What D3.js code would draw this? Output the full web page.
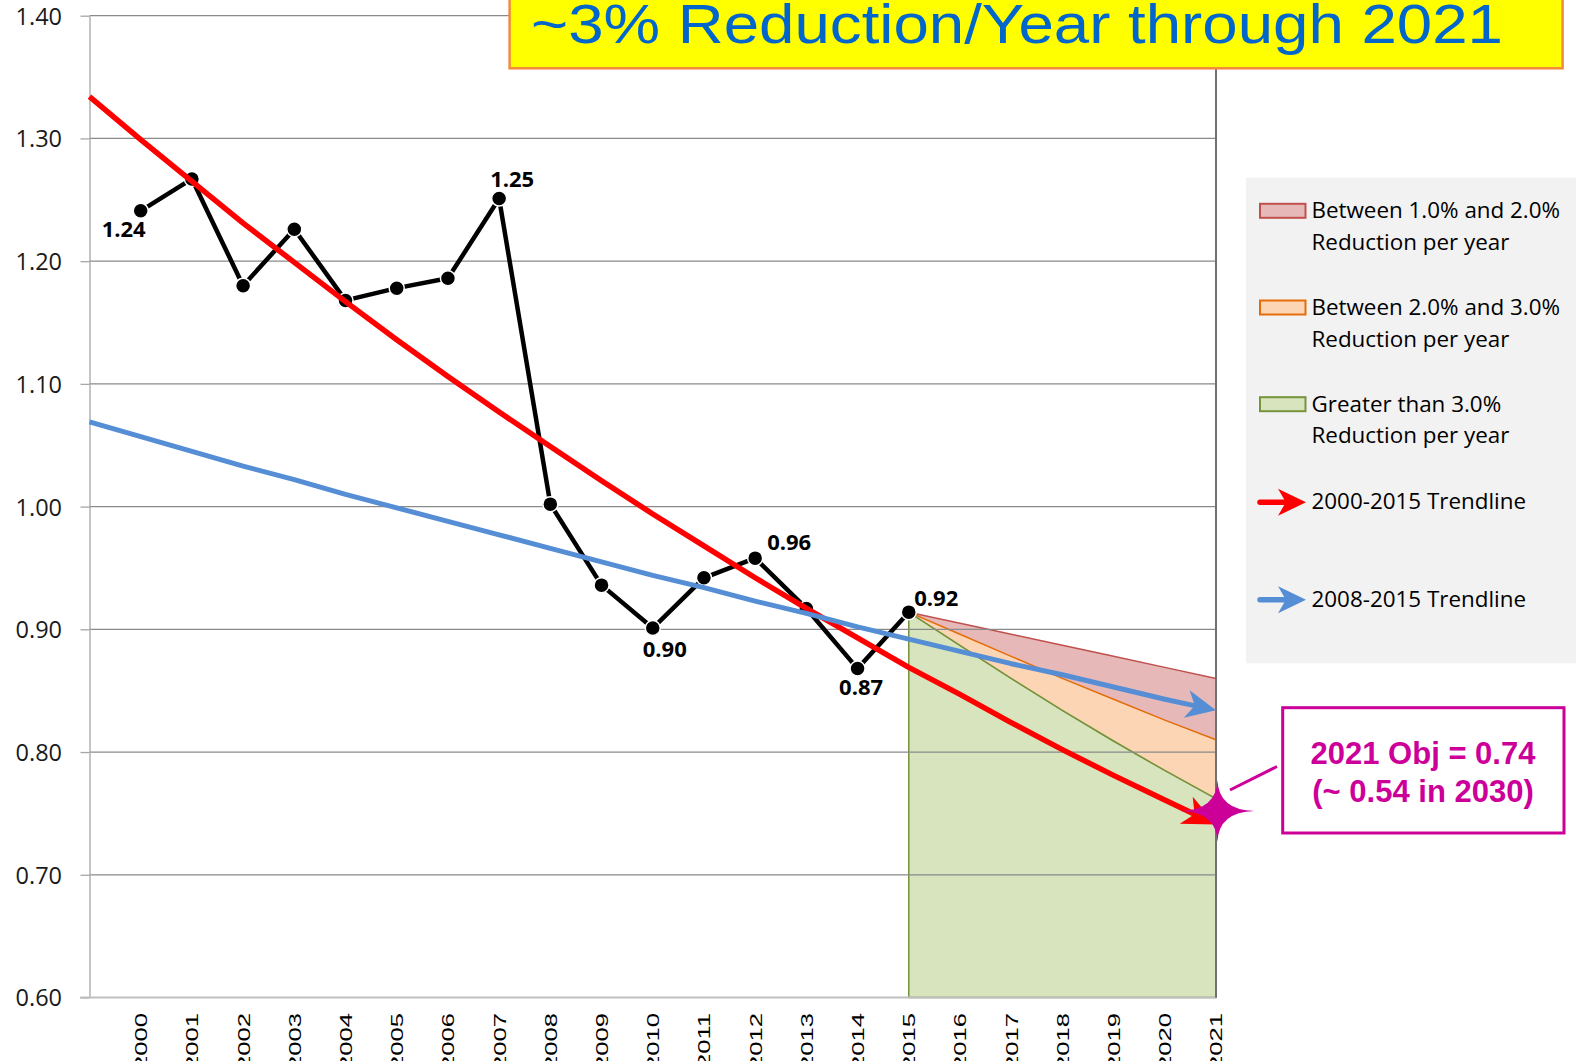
<!DOCTYPE html>
<html>
<head>
<meta charset="utf-8">
<script src="https://cdn.jsdelivr.net/npm/d3@7"></script>
<style>
  body { margin: 0; background: #fff; }
  svg { display: block; }
</style>
</head>
<body>
<script>
// category years shown on the x axis
var years = [2000, 2001, 2002, 2003, 2004, 2005, 2006, 2007, 2008, 2009, 2010,
             2011, 2012, 2013, 2014, 2015, 2016, 2017, 2018, 2019, 2020, 2021];

// measured values 2000-2015
var actualYears = [2000, 2001, 2002, 2003, 2004, 2005, 2006, 2007,
                   2008, 2009, 2010, 2011, 2012, 2013, 2014, 2015];
var actualValues = [1.241, 1.267, 1.180, 1.226, 1.168, 1.178, 1.186, 1.251,
                    1.002, 0.936, 0.901, 0.942, 0.958, 0.917, 0.868, 0.914];

var trendYears = [1999, 2000, 2001, 2002, 2003, 2004, 2005, 2006, 2007, 2008, 2009, 2010,
                  2011, 2012, 2013, 2014, 2015, 2016, 2017, 2018, 2019, 2020, 2021];
var trend2000 = [1.334, 1.299, 1.265, 1.231, 1.199, 1.167, 1.136, 1.106, 1.077, 1.049, 1.021, 0.994,
                 0.968, 0.942, 0.917, 0.893, 0.869, 0.847, 0.824, 0.802, 0.781, 0.761, 0.741];
var trend2008 = [1.069, 1.057, 1.045, 1.033, 1.022, 1.010, 0.999, 0.988, 0.977, 0.966, 0.955, 0.944,
                 0.934, 0.923, 0.913, 0.902, 0.892, 0.882, 0.872, 0.863, 0.853, 0.843, 0.834];

// projection bands 2015-2021
var projYears = [2015, 2016, 2017, 2018, 2019, 2020, 2021];
var reduce1 = [0.914, 0.905, 0.896, 0.887, 0.878, 0.869, 0.860];
var reduce2 = [0.914, 0.896, 0.878, 0.860, 0.843, 0.826, 0.810];
var reduce3 = [0.914, 0.887, 0.860, 0.834, 0.809, 0.785, 0.762];

var yTicks = [0.60, 0.70, 0.80, 0.90, 1.00, 1.10, 1.20, 1.30, 1.40];

// points that carry a value label
var labelYears = [2000, 2007, 2010, 2012, 2014, 2015];
var labelTexts = ["1.24", "1.25", "0.90", "0.96", "0.87", "0.92"];

var objYear = 2021, objValue = 0.752;
var titleText = "~3% Reduction/Year through 2021";
var objLines = ["2021 Obj = 0.74", "(~ 0.54 in 2030)"];
var legendItems = [
  {kind: "box", fill: "#e6b9b8", stroke: "#c0504d", lines: ["Between 1.0% and 2.0%", "Reduction per year"]},
  {kind: "box", fill: "#fcd5b5", stroke: "#e46c0a", lines: ["Between 2.0% and 3.0%", "Reduction per year"]},
  {kind: "box", fill: "#d7e4bd", stroke: "#77933c", lines: ["Greater than 3.0%", "Reduction per year"]},
  {kind: "arrow", stroke: "#ff0000", lines: ["2000-2015 Trendline"]},
  {kind: "arrow", stroke: "#558ed5", lines: ["2008-2015 Trendline"]}
];

var W = 1576, H = 1061;
var plotL = 89.5, plotR = 1216, plotT = 15.7, plotB = 997.5;

var svg = d3.select("body").append("svg")
    .attr("width", W)
    .attr("height", H);

svg.append("rect").attr("width", W).attr("height", H).attr("fill", "#fff");

var x = d3.scaleLinear().domain([1999, 2021]).range([plotL, plotR]);
var y = d3.scaleLinear().domain([0.6, 1.4]).range([plotB, plotT]);

// projection bands
function band(upper, lower) {
  var pts = upper.map(function(v, i) { return [x(projYears[i]), y(v)]; });
  for (var i = lower.length - 1; i >= 0; i--) pts.push([x(projYears[i]), y(lower[i])]);
  return "M" + pts.join("L") + "Z";
}
var floor = projYears.map(function() { return 0.6; });
svg.append("path").attr("d", band(reduce3, floor))
    .attr("fill", "#d7e4bd").attr("stroke", "#77933c").attr("stroke-width", 1.5);
svg.append("path").attr("d", band(reduce2, reduce3))
    .attr("fill", "#fcd5b5").attr("stroke", "none");
svg.append("path").attr("d", band(reduce1, reduce2))
    .attr("fill", "#e6b9b8").attr("stroke", "none");

var lineP = d3.line()
    .x(function(d) { return x(d[0]); })
    .y(function(d) { return y(d[1]); });
svg.append("path").datum(d3.zip(projYears, reduce1))
    .attr("d", lineP).attr("fill", "none").attr("stroke", "#c0504d").attr("stroke-width", 1.5);
svg.append("path").datum(d3.zip(projYears, reduce2))
    .attr("fill", "none").attr("d", lineP).attr("stroke", "#e46c0a").attr("stroke-width", 1.5);
svg.append("path").datum(d3.zip(projYears, reduce3))
    .attr("fill", "none").attr("d", lineP).attr("stroke", "#77933c").attr("stroke-width", 1.5);
// right edges of the bands
svg.append("line")
    .attr("x1", x(2021)).attr("x2", x(2021)).attr("y1", y(reduce1[6])).attr("y2", y(reduce2[6]))
    .attr("stroke", "#c0504d").attr("stroke-width", 1.5);
svg.append("line")
    .attr("x1", x(2021)).attr("x2", x(2021)).attr("y1", y(reduce2[6])).attr("y2", y(reduce3[6]))
    .attr("stroke", "#e46c0a").attr("stroke-width", 1.5);

// gridlines
svg.append("g").selectAll("line")
    .data(yTicks.slice(1))
    .join("line")
    .attr("x1", plotL).attr("x2", plotR)
    .attr("y1", function(d) { return y(d); }).attr("y2", function(d) { return y(d); })
    .attr("stroke", "#8a8a8a").attr("stroke-width", 1.3);

// y axis
var yAxis = svg.append("g")
    .attr("transform", "translate(" + plotL + ",0)")
    .call(d3.axisLeft(y).tickValues(yTicks).tickFormat(d3.format(".2f")).tickSize(9).tickSizeOuter(0));
yAxis.select(".domain").attr("stroke", "#a6a6a6").attr("stroke-width", 1.3);
yAxis.selectAll(".tick line").attr("stroke", "#a6a6a6").attr("stroke-width", 1.3);
yAxis.selectAll(".tick text")
    .attr("x", -27.5)
    .attr("dy", "0.36em")
    .attr("fill", "#1a1a1a")
    .style("font-family", "'Open Sans', sans-serif")
    .style("font-size", "23.5px");

// bottom line and right border
svg.append("line")
    .attr("x1", 80).attr("x2", plotR).attr("y1", y(0.6)).attr("y2", y(0.6))
    .attr("stroke", "#bfbfbf").attr("stroke-width", 2);
svg.append("line")
    .attr("x1", plotR).attr("x2", plotR).attr("y1", y(1.4)).attr("y2", y(0.6))
    .attr("stroke", "#707070").attr("stroke-width", 2);

// x axis labels
var xAxis = svg.append("g")
    .call(d3.axisBottom(x).tickValues(years).tickFormat(d3.format("d")).tickSize(0));
xAxis.select(".domain").remove();
xAxis.selectAll(".tick text")
    .attr("x", 0).attr("y", 0)
    .attr("dy", "0.36em")
    .attr("text-anchor", "end")
    .attr("transform", "translate(0,1013) rotate(-90) scale(1.55,1)")
    .attr("fill", "#000")
    .style("font-family", "'Liberation Sans', Arial, sans-serif")
    .style("font-size", "16.5px");

// actual data line
var actual = d3.zip(actualYears, actualValues);
svg.append("path").datum(actual)
    .attr("d", lineP)
    .attr("fill", "none")
    .attr("stroke", "#000")
    .attr("stroke-width", 4.5)
    .attr("stroke-linejoin", "round");
svg.append("g").selectAll("circle")
    .data(actual)
    .join("circle")
    .attr("cx", function(d) { return x(d[0]); })
    .attr("cy", function(d) { return y(d[1]); })
    .attr("r", 7.5)
    .attr("fill", "#000")
    .attr("stroke", "#fff")
    .attr("stroke-width", 1.5);

// value labels, offsets as placed in the original
var labelOffsets = {2000: [-17, 26], 2007: [13, -12], 2010: [12, 28.5], 2012: [34, -8], 2014: [3.5, 26], 2015: [27.5, -6.5]};
svg.append("g").selectAll("text")
    .data(labelYears)
    .join("text")
    .attr("x", function(d) { return x(d) + labelOffsets[d][0]; })
    .attr("y", function(d, i) { return y(actualValues[actualYears.indexOf(d)]) + labelOffsets[d][1]; })
    .attr("text-anchor", "middle")
    .attr("fill", "#000")
    .style("font-family", "'Open Sans', sans-serif")
    .style("font-weight", "bold")
    .style("font-size", "22px")
    .text(function(d, i) { return labelTexts[i]; });

// trendlines with arrowheads
function arrowHead(g, x0, y0, x1, y1, color, len, half) {
  var a = Math.atan2(y1 - y0, x1 - x0) * 180 / Math.PI;
  g.append("path")
      .attr("d", "M0,0L" + (-len) + "," + (-half) + "L" + (-len * 0.72) + ",0L" + (-len) + "," + half + "Z")
      .attr("transform", "translate(" + x1 + "," + y1 + ") rotate(" + a + ")")
      .attr("fill", color);
}
function trend(vals, color, w, len, half) {
  var pts = d3.zip(trendYears, vals);
  var n = pts.length;
  var xa = x(pts[n - 2][0]), ya = y(pts[n - 2][1]);
  var xb = x(pts[n - 1][0]), yb = y(pts[n - 1][1]);
  var dist = Math.hypot(xb - xa, yb - ya), k = (len * 0.7) / dist;
  var body = pts.slice(0, n - 1).map(function(d) { return [x(d[0]), y(d[1])]; });
  body.push([xb - (xb - xa) * k, yb - (yb - ya) * k]);
  var g = svg.append("g");
  g.append("path")
      .attr("d", "M" + body.join("L"))
      .attr("fill", "none")
      .attr("stroke", color)
      .attr("stroke-width", w)
      .attr("stroke-linejoin", "round");
  arrowHead(g, xa, ya, xb, yb, color, len, half);
}
trend(trend2000, "#ff0000", 5.5, 33, 15);
trend(trend2008, "#558ed5", 5, 30, 14);

// objective star and callout
var sx = x(objYear) + 1.5, sy = y(objValue);
svg.append("line")
    .attr("x1", 1230).attr("y1", 790).attr("x2", 1277).attr("y2", 766.5)
    .attr("stroke", "#cc0099").attr("stroke-width", 3);
svg.append("path")
    .attr("d", "M0,-31Q1,-1 37,0Q1,1 0,31Q-1,1 -37,0Q-1,-1 0,-31Z")
    .attr("transform", "translate(" + sx + "," + sy + ")")
    .attr("fill", "#cc0099");
svg.append("rect")
    .attr("x", 1282.7).attr("y", 707.7).attr("width", 281.3).attr("height", 125.3)
    .attr("fill", "#fff").attr("stroke", "#cc0099").attr("stroke-width", 3);
svg.append("g").selectAll("text")
    .data(objLines)
    .join("text")
    .attr("x", 1423)
    .attr("y", function(d, i) { return 764 + i * 37.7; })
    .attr("text-anchor", "middle")
    .attr("fill", "#cc0099")
    .style("font-family", "'Liberation Sans', Arial, sans-serif")
    .style("font-weight", "bold")
    .style("font-size", "31px")
    .text(function(d) { return d; });

// legend
svg.append("rect")
    .attr("x", 1246).attr("y", 177.7).attr("width", 330).attr("height", 485.6)
    .attr("fill", "#f2f2f2");
var legendY = [218.3, 315, 411.7, 509.3, 606.7];
legendItems.forEach(function(it, i) {
  var g = svg.append("g");
  var by = legendY[i];
  if (it.kind === "box") {
    g.append("rect")
        .attr("x", 1260).attr("y", by - 14.5).attr("width", 45.5).attr("height", 14)
        .attr("fill", it.fill).attr("stroke", it.stroke).attr("stroke-width", 2);
  } else {
    g.append("line")
        .attr("x1", 1260).attr("x2", 1287).attr("y1", by - 7).attr("y2", by - 7)
        .attr("stroke", it.stroke).attr("stroke-width", 5.5).attr("stroke-linecap", "round");
    arrowHead(g, 1258, by - 7, 1306, by - 7, it.stroke, 28, 13.5);
  }
  g.selectAll("text")
      .data(it.lines)
      .join("text")
      .attr("x", 1311.5)
      .attr("y", function(d, j) { return by + j * 31.7; })
      .attr("fill", "#000")
      .style("font-family", "'Open Sans', sans-serif")
      .style("font-size", "22.4px")
      .text(function(d) { return d; });
});

// title banner
svg.append("rect")
    .attr("x", 509.6).attr("y", -10).attr("width", 1053).attr("height", 78.3)
    .attr("fill", "#ffff00").attr("stroke", "#f58a3a").attr("stroke-width", 2.5);
svg.append("text")
    .attr("x", 531).attr("y", 43.3)
    .attr("textLength", 972)
    .attr("lengthAdjust", "spacingAndGlyphs")
    .attr("fill", "#0066cc")
    .style("font-family", "'Liberation Sans', Arial, sans-serif")
    .style("font-size", "56px")
    .text(titleText);
</script>
</body>
</html>
